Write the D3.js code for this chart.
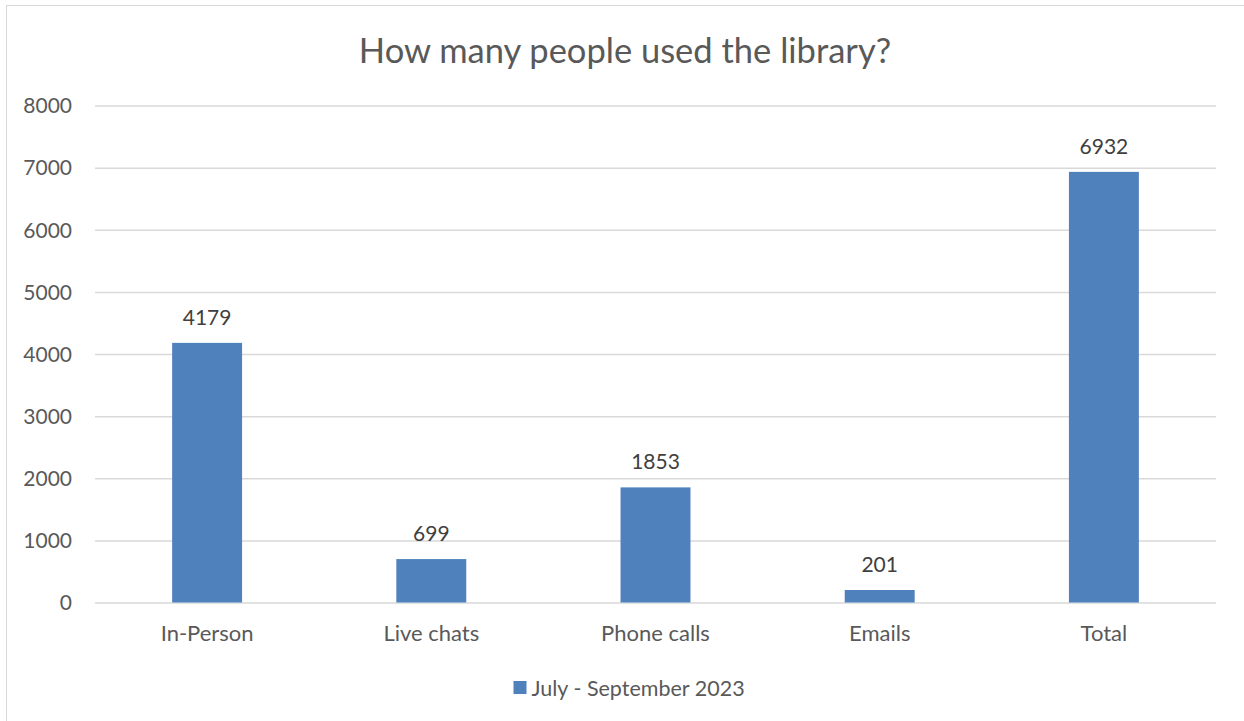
<!DOCTYPE html>
<html><head><meta charset="utf-8">
<script src="https://cdn.jsdelivr.net/npm/d3@7"></script>
<style>body{margin:0;background:#fff;} svg{display:block;}</style>
</head><body><svg id="c" width="1244" height="721"></svg>
<script>
const categories = ["In-Person", "Live chats", "Phone calls", "Emails", "Total"];
const values = [4179, 699, 1853, 201, 6932];
const yTicks = [0, 1000, 2000, 3000, 4000, 5000, 6000, 7000, 8000];
const seriesName = "July - September 2023";
const title = "How many people used the library?";

const svg = d3.select("#c");
const font = "Lato, 'Open Sans', sans-serif";
svg.append("rect").attr("x", 6.5).attr("y", 5.5).attr("width", 1300).attr("height", 800)
  .attr("fill", "#fff").attr("stroke", "#d9d9d9").attr("stroke-width", 1);

const x = d3.scaleBand().domain(categories).range([95, 1216]).paddingInner(0.688).paddingOuter(0.344);
const y = d3.scaleLinear().domain([0, 8000]).range([602.5, 105.5]);

svg.append("text").attr("x", 625).attr("y", 63).attr("text-anchor", "middle")
  .attr("font-family", font).attr("font-size", 34.5).attr("fill", "#595959").text(title);

const yAxis = d3.axisLeft(y).tickValues(yTicks).tickSize(-(1216 - 95)).tickFormat(d3.format("d"));
const gy = svg.append("g").attr("transform", "translate(95,0)").call(yAxis);
gy.select(".domain").remove();
gy.selectAll(".tick line").attr("stroke", "#d9d9d9").attr("stroke-width", 1.5);
gy.selectAll(".tick text").attr("x", -23).attr("dy", "0.35em")
  .attr("font-family", font).attr("font-size", 21).attr("fill", "#595959");

svg.append("g").selectAll("rect").data(values).join("rect")
  .attr("x", (d, i) => x(categories[i])).attr("width", x.bandwidth())
  .attr("y", d => y(d)).attr("height", d => y(0) - y(d)).attr("fill", "#4f81bd");

svg.append("g").selectAll("text").data(values).join("text")
  .attr("x", (d, i) => x(categories[i]) + x.bandwidth() / 2).attr("y", d => y(d) - 18)
  .attr("text-anchor", "middle").attr("font-family", font).attr("font-size", 21).attr("fill", "#404040")
  .text(d => d);

const xAxis = d3.axisBottom(x).tickSize(0);
const gx = svg.append("g").attr("transform", `translate(0,${y(0)})`).call(xAxis);
gx.select(".domain").remove();
gx.selectAll(".tick text").attr("y", 38.5).attr("dy", 0)
  .attr("font-family", font).attr("font-size", 22).attr("fill", "#595959");

const lg = svg.append("g");
lg.append("rect").attr("x", 513.5).attr("y", 681).attr("width", 13).attr("height", 13).attr("fill", "#4f81bd");
lg.append("text").attr("x", 531.5).attr("y", 695.5).attr("font-family", font).attr("font-size", 21.5)
  .attr("fill", "#595959").text(seriesName);
</script></body></html>
